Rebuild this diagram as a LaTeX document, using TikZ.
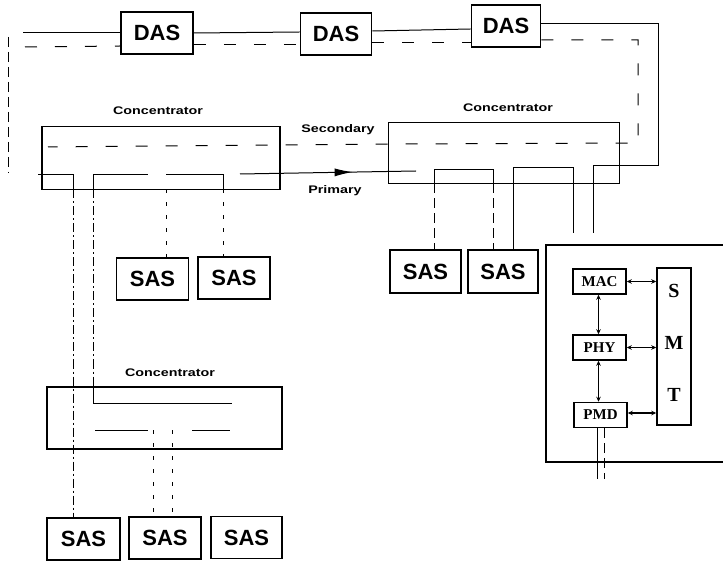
\documentclass[tikz,border=0pt]{standalone}
\usepackage{fontspec}
\setmainfont{Liberation Serif}
\newfontfamily\hv{Liberation Sans}
\usetikzlibrary{arrows.meta,calc,decorations.markings}
\begin{document}
\begin{tikzpicture}[x=1pt,y=-1pt,
  box/.style={draw,line width=1.9pt,minimum width=72pt,minimum height=42pt,inner sep=0pt,
    font=\hv\bfseries\fontsize{22}{22}\selectfont},
  conc/.style={draw,line width=1.7pt,inner sep=0pt},
  lbl/.style={inner sep=0pt,font=\hv\bfseries\fontsize{11}{11}\selectfont},
  ring/.style={line width=1pt},
  sec/.style={line width=1pt,dash pattern=on 12pt off 18pt},
  drop/.style={line width=1pt,dash pattern=on 10pt off 5pt},
  faint/.style={line width=1pt,dash pattern=on 4pt off 9pt},
  dashdotline/.style={line width=1pt,dash pattern=on 9pt off 3pt on 2pt off 3pt},
  layer/.style={draw,line width=1.5pt,minimum width=53pt,minimum height=25pt,inner sep=0pt,
    font=\bfseries\fontsize{15}{15}\selectfont},
  dbl/.style={{Stealth[length=5pt,width=4.5pt]}-{Stealth[length=5pt,width=4.5pt]},line width=1.1pt},
  smtl/.style={inner sep=0pt,font=\bfseries\fontsize{20}{20}\selectfont}
]
\useasboundingbox (0,0) rectangle (723,561);

% DAS stations
\node[box] (das1) at (157,33) {DAS};
\node[box,minimum width=71pt] (das2) at (336,34) {DAS};
\node[box,minimum width=69pt] (das3) at (506,26) {DAS};

% concentrators
\node[conc,minimum width=238pt,minimum height=63pt] (lc) at (161,158) {};
\node[conc,minimum width=231pt,minimum height=61pt] (rc) at (504,153) {};
\node[conc,minimum width=235pt,minimum height=62pt] (bc) at (164.5,418) {};
\node[lbl] (lcl) at (158,111) {\scalebox{1.3}[1]{Concentrator}};
\node[lbl] (rcl) at (508,108) {\scalebox{1.3}[1]{Concentrator}};
\node[lbl] (bcl) at (170,373) {\scalebox{1.3}[1]{Concentrator}};
\node[lbl] (secl) at (338,130) {\scalebox{1.3}[1]{Secondary}};
\node[lbl] (priml) at (335,191) {\scalebox{1.3}[1]{Primary}};

% SAS stations
\node[box,minimum height=43pt,minimum width=71pt] (sr1) at (425.5,271.5) {SAS};
\node[box,minimum height=43pt,minimum width=70pt] (sr2) at (503,271.5) {SAS};
\node[box] (sm1) at (152.5,279) {SAS};
\node[box] (sm2) at (234,278) {SAS};
\node[box,minimum width=73pt] (sb1) at (83.5,539) {SAS};
\node[box] (sb2) at (165,538) {SAS};
\node[box,minimum width=71pt] (sb3) at (246.5,537.5) {SAS};

% station detail
\draw[line width=1.5pt] (726,245) -- (546,245) -- (546,462) -- (726,462);
\node[layer] (mac) at (599.5,281.5) {MAC};
\node[layer] (phy) at (599.5,347.5) {PHY};
\node[layer] (pmd) at (600.5,415) {PMD};
\node[draw,line width=1.5pt,minimum width=34pt,minimum height=157pt,inner sep=0pt] (smt) at (674,346.5) {};
\node[smtl] (smts) at (674,291) {S};
\node[smtl] (smtm) at (674,343) {M};
\node[smtl] (smtt) at (674,395) {T};
\draw[dbl] (mac.east) -- (mac.east -| smt.west);
\draw[dbl] (phy.east) -- (phy.east -| smt.west);
\draw[dbl] ($(pmd.east)+(0,-2)$) -- ($(pmd.east -| smt.west)+(0,-2)$);
\draw[dbl] ($(mac.south)+(-1,0)$) -- ($(phy.north)+(-1,0)$);
\draw[dbl,line width=1.7pt] ($(phy.south)+(-1,0)$) -- ($(phy.south |- pmd.north)+(-1,0)$);
\draw[ring] ($(pmd.south)+(-3.5,0)$) -- ++(0,51);
\draw[drop] ($(pmd.south)+(3.5,0)$) -- ++(0,51);

% top dual ring
\draw[ring] (23,33) -- (das1.west);
\draw[ring] (das1.east) -- ($(das2.west)+(0,-2)$);
\draw[ring] ($(das2.east)+(0,-3)$) -- ($(das3.west)+(0,3)$);
\draw[sec] (25,47) -- ($(das1.west)+(0,13)$);
\draw[sec] ($(das1.east)+(0,12)$) -- ($(das2.west)+(0,11)$);
\draw[sec] ($(das2.east)+(0,9)$) -- ($(das3.west)+(0,17)$);
\draw[drop] (8,37) -- (8,173);

% secondary ring through the concentrators
\draw[sec] ($(das3.east)+(0,14)$) -| (638,143) -- (388,144) -- (48,147);

% primary ring, right side back to DAS
\draw[ring] ($(das3.east)+(0,-2)$) -| (658,166) -- (593,166) -- (593,233);
\draw[ring] (573,233) -- (573,168) -- (513,168) -- (513,250);
\draw[ring] (434,183.5) -- (434,170) -- (493,170) -- (493,183.5);
\draw[drop] (434,183.5) -- (434,0 |- sr1.north);
\draw[drop] (493,183.5) -- (493,0 |- sr2.north);

% primary ring, left concentrator
\draw[ring] (38,175) -- (73,175) -- (73,189.5);
\draw[dashdotline] (73,189.5) -- (73,0 |- sb1.north);
\draw[ring] (93,189.5) -- (93,175) -- (148,175);
\draw[dashdotline] (93,189.5) -- (93,0 |- bc.north);
\draw[ring] (166,175) -- (223,175) -- (223,189.5);
\draw[faint] (166,189.5) -- (166,0 |- sm1.north);
\draw[faint] (223,189.5) -- (223,0 |- sm2.north);
\draw[ring,postaction={decorate},
  decoration={markings,mark=at position 0.64 with {\arrow{Latex[length=18pt,width=8pt]}}}]
  (240,174) -- (416,171);

% lower concentrator
\draw[ring] (93,387) -- (93,403) -- (232,403);
\draw[ring] (95,430) -- (148,430);
\draw[ring] (192,430) -- (230,430);
\draw[faint] (153,430) -- (153,0 |- sb2.north);
\draw[faint] (172,430) -- (172,0 |- sb2.north);
\end{tikzpicture}
\end{document}
